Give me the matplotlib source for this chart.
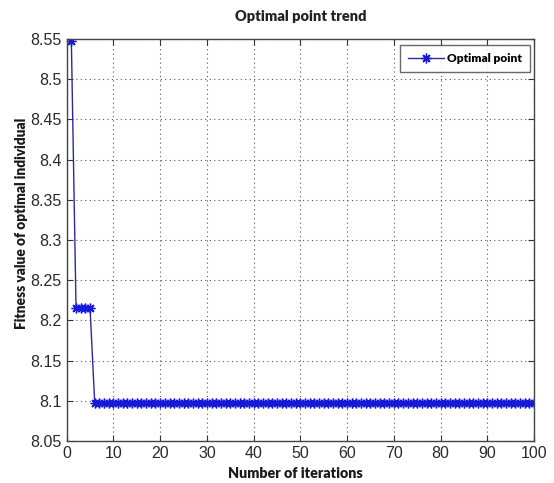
import matplotlib
matplotlib.use("Agg")
import matplotlib.pyplot as plt

# Data
iterations = list(range(1, 101))
fitness = [8.547] + [8.215] * 4 + [8.097] * 95
x_ticks = [0, 10, 20, 30, 40, 50, 60, 70, 80, 90, 100]
y_ticks = [8.05, 8.1, 8.15, 8.2, 8.25, 8.3, 8.35, 8.4, 8.45, 8.5, 8.55]
y_tick_labels = ["8.05", "8.1", "8.15", "8.2", "8.25", "8.3", "8.35", "8.4", "8.45", "8.5", "8.55"]
series_label = "Optimal point"
title = "Optimal point trend"
xlabel = "Number of iterations"
ylabel = "Fitness value of optimal individual"

plt.rcParams['font.family'] = ['Liberation Sans', 'DejaVu Sans']
label_font = ['Lato', 'DejaVu Sans']

fig = plt.figure(figsize=(5.54, 4.83), dpi=100)
ax = fig.add_axes([66.7 / 554, 42 / 483, (534 - 66.7) / 554, (441 - 39) / 483])

ax.plot(iterations, fitness, color='#2a2a9c', linewidth=1.0,
        marker=(8, 2, 0), markersize=7, markeredgecolor='#1818d8',
        markerfacecolor='#1818d8', markeredgewidth=1.0, label=series_label)

ax.set_xlim(0, 100)
ax.set_ylim(8.05, 8.55)
ax.set_xticks(x_ticks)
ax.set_yticks(y_ticks)
ax.set_yticklabels(y_tick_labels)

ax.grid(True, which='major', linestyle=(0, (1, 3)), color='#555555', linewidth=0.8)
ax.tick_params(direction='in', top=True, right=True, length=4, width=0.8,
               labelsize=11.5, colors='#333333', labelcolor='#2a2a2a')
for sp in ax.spines.values():
    sp.set_color('#444444')
    sp.set_linewidth(1.0)

ax.set_title(title, fontsize=10.5, fontweight='heavy', color='#222222', pad=13,
             family=label_font)
ax.set_xlabel(xlabel, fontsize=10.3, fontweight='heavy', color='#1a1a1a',
              family=label_font, va='center')
ax.xaxis.set_label_coords(0.49, -0.082)
ax.set_ylabel(ylabel, fontsize=9.9, fontweight='heavy', color='#1a1a1a',
              family=label_font, va='center')
ax.yaxis.set_label_coords(-0.096, 0.542)

leg = ax.legend(loc='upper right', frameon=True, fancybox=False,
                edgecolor='#444444', borderpad=0.65, handlelength=3.0,
                handletextpad=0.3, borderaxespad=0.0,
                bbox_to_anchor=(0.9915, 0.985),
                prop={'family': label_font, 'weight': 'heavy', 'size': 8.6})
leg.get_frame().set_linewidth(1.0)

fig.savefig("out.png", dpi=100)
